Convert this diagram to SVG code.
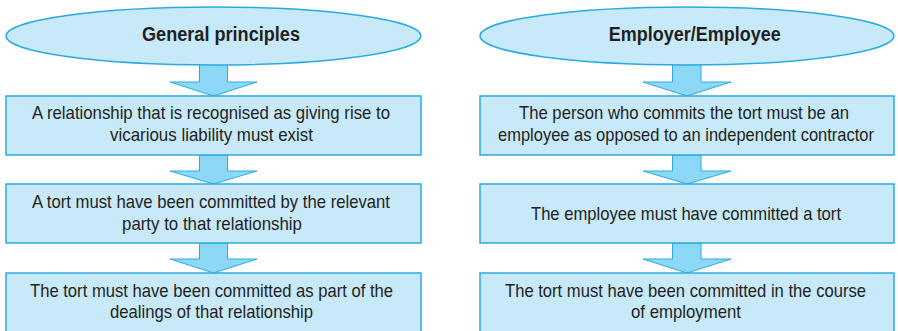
<svg xmlns="http://www.w3.org/2000/svg" width="898" height="331" viewBox="0 0 898 331">
<style>
.box{fill:#c8e9f8;stroke:#29abe2;stroke-width:1.5}
.arr{fill:#8dd8f6;stroke:#29abe2;stroke-width:1}
.h{font-family:"Liberation Sans",Arial,sans-serif;font-weight:bold;font-size:20px;fill:#231f20;text-anchor:middle}
.t{font-family:"Liberation Sans",Arial,sans-serif;font-size:19px;fill:#231f20;text-anchor:middle}
</style>
<rect width="898" height="331" fill="#ffffff"/>
<g id="connectors">
<polygon class="arr" points="199.5,64 227.5,64 227.5,82 257,82 213.5,96 170,82 199.5,82"/>
<polygon class="arr" points="199.5,155 227.5,155 227.5,171 257,171 213.5,184 170,171 199.5,171"/>
<polygon class="arr" points="199.5,243 227.5,243 227.5,259 257,259 213.5,273 170,259 199.5,259"/>
<polygon class="arr" points="672.5,64 701,64 701,82 731,82 687,96 643,82 672.5,82"/>
<polygon class="arr" points="672.5,155 701,155 701,171 731,171 687,184 643,171 672.5,171"/>
<polygon class="arr" points="672.5,243 701,243 701,259 731,259 687,273 643,259 672.5,259"/>
</g>
<g id="general">
<ellipse class="box" cx="213.5" cy="36" rx="207.5" ry="29"/>
<text class="h" x="221" y="41" textLength="158" lengthAdjust="spacingAndGlyphs">General principles</text>
</g>
<g id="gp1">
<rect class="box" x="6" y="96" width="415" height="59"/>
<text class="t" x="211" y="119" textLength="358" lengthAdjust="spacingAndGlyphs">A relationship that is recognised as giving rise to</text>
<text class="t" x="211.5" y="141" textLength="203" lengthAdjust="spacingAndGlyphs">vicarious liability must exist</text>
</g>
<g id="gp2">
<rect class="box" x="6" y="184" width="415" height="59"/>
<text class="t" x="211" y="208" textLength="358" lengthAdjust="spacingAndGlyphs">A tort must have been committed by the relevant</text>
<text class="t" x="212" y="230" textLength="180" lengthAdjust="spacingAndGlyphs">party to that relationship</text>
</g>
<g id="gp3">
<rect class="box" x="6" y="273" width="415" height="64"/>
<text class="t" x="211.5" y="297" textLength="363" lengthAdjust="spacingAndGlyphs">The tort must have been committed as part of the</text>
<text class="t" x="211.5" y="318" textLength="203" lengthAdjust="spacingAndGlyphs">dealings of that relationship</text>
</g>
<g id="employer">
<ellipse class="box" cx="687" cy="36" rx="207" ry="29"/>
<text class="h" x="694.7" y="41" textLength="172" lengthAdjust="spacingAndGlyphs">Employer/Employee</text>
</g>
<g id="ee1">
<rect class="box" x="480" y="96" width="414" height="59"/>
<text class="t" x="684" y="119" textLength="330" lengthAdjust="spacingAndGlyphs">The person who commits the tort must be an</text>
<text class="t" x="686" y="141" textLength="376" lengthAdjust="spacingAndGlyphs">employee as opposed to an independent contractor</text>
</g>
<g id="ee2">
<rect class="box" x="480" y="184" width="414" height="59"/>
<text class="t" x="686" y="220" textLength="310" lengthAdjust="spacingAndGlyphs">The employee must have committed a tort</text>
</g>
<g id="ee3">
<rect class="box" x="480" y="273" width="414" height="64"/>
<text class="t" x="685.5" y="297" textLength="361" lengthAdjust="spacingAndGlyphs">The tort must have been committed in the course</text>
<text class="t" x="686" y="318" textLength="110" lengthAdjust="spacingAndGlyphs">of employment</text>
</g>
</svg>
